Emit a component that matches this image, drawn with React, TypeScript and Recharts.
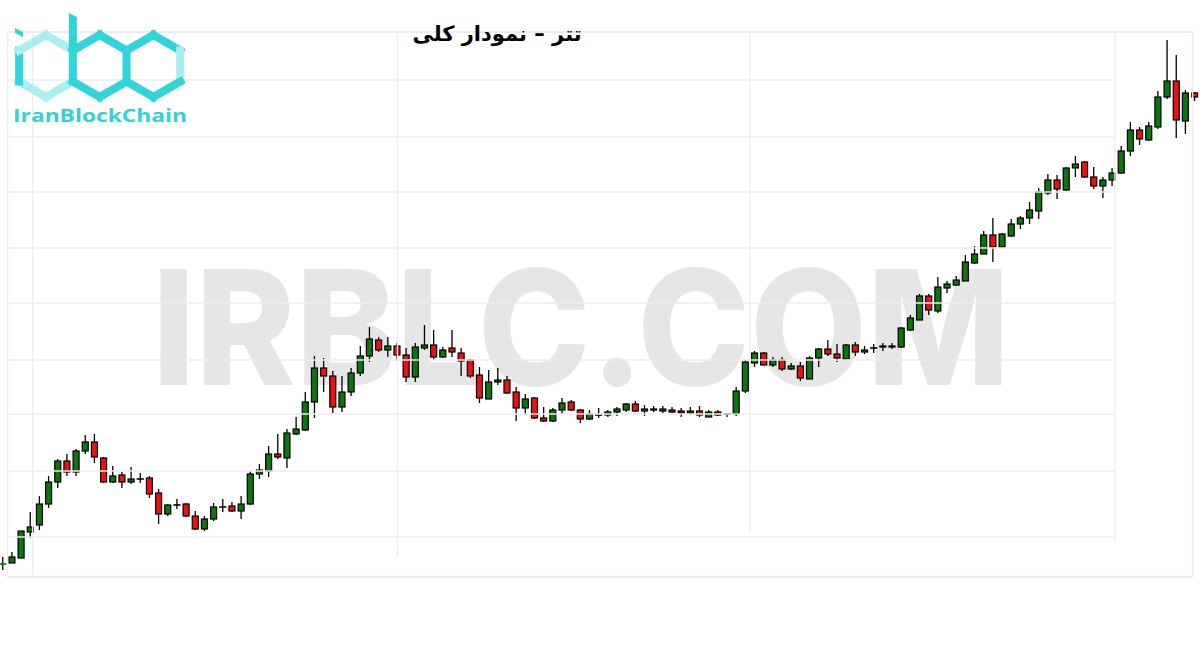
import React from 'react';
import { ComposedChart, Bar, XAxis, YAxis, ReferenceLine } from 'recharts';

// Candle periods (no labels are shown on the chart)
const periods: string[] = Array.from({ length: 131 }, (_, i) => `P${i + 1}`);

// Price values (in hundreds of toman)
const opens: number[] = [
  36, 37, 42, 68, 75, 96, 118, 139, 128, 149, 158, 142, 118, 125, 118, 121, 122, 107, 86, 95,
  96, 84, 71, 81, 93, 94, 89, 96, 126, 129, 146, 142, 166, 170, 198, 232, 224, 193, 208, 227,
  244, 260, 250, 254, 245, 223, 252, 255, 243, 252, 247, 240, 225, 201, 218, 220, 208, 192, 202, 182,
  179, 190, 198, 190, 181, 185, 185, 188, 190, 196, 189, 190, 189, 190, 189, 187, 189, 183, 188, 186,
  186, 209, 237, 247, 235, 240, 231, 234, 221, 242, 251, 246, 241, 255, 248, 252, 253, 253, 253, 270,
  280, 304, 289, 312, 315, 319, 337, 346, 365, 353, 364, 376, 382, 389, 407, 420, 410, 432, 438, 423,
  414, 420, 427, 449, 470, 460, 473, 503, 519, 479, 507,
];
const highs: number[] = [
  43, 48, 69, 88, 104, 124, 141, 146, 151, 165, 166, 143, 134, 128, 133, 127, 124, 111, 96, 101,
  97, 89, 84, 97, 101, 98, 104, 129, 136, 154, 166, 171, 183, 208, 244, 242, 229, 224, 232, 254,
  273, 263, 263, 257, 252, 257, 275, 270, 253, 270, 252, 241, 233, 230, 232, 224, 213, 206, 203, 193,
  192, 202, 200, 191, 190, 192, 190, 193, 197, 199, 195, 194, 194, 193, 192, 193, 194, 190, 190, 187,
  213, 240, 249, 248, 243, 243, 237, 238, 244, 252, 260, 256, 256, 258, 254, 256, 257, 257, 273, 285,
  306, 306, 323, 319, 324, 345, 354, 369, 382, 367, 381, 384, 398, 412, 426, 425, 433, 444, 439, 433,
  423, 432, 454, 478, 473, 478, 509, 560, 545, 510, 508,
];
const lows: number[] = [
  30, 37, 42, 62, 70, 92, 112, 124, 124, 146, 137, 117, 117, 112, 116, 117, 102, 76, 84, 91,
  83, 70, 69, 79, 88, 88, 81, 95, 121, 123, 141, 132, 165, 169, 182, 208, 187, 188, 204, 224,
  238, 248, 243, 239, 218, 218, 250, 240, 242, 243, 224, 222, 197, 201, 215, 206, 179, 185, 181, 178,
  178, 186, 189, 177, 180, 182, 183, 184, 188, 188, 184, 188, 187, 187, 183, 185, 183, 183, 184, 183,
  184, 207, 233, 235, 233, 229, 230, 219, 221, 233, 244, 238, 240, 244, 246, 247, 249, 251, 252, 269,
  280, 285, 287, 307, 314, 319, 336, 346, 338, 352, 363, 371, 376, 381, 405, 401, 409, 423, 422, 411,
  402, 414, 426, 444, 455, 459, 471, 501, 462, 466, 499,
];
const closes: number[] = [
  36, 43, 69, 73, 96, 118, 139, 128, 149, 158, 143, 118, 124, 118, 121, 121, 106, 86, 95, 95,
  84, 71, 81, 93, 93, 89, 96, 126, 130, 146, 143, 167, 171, 198, 232, 224, 193, 208, 227, 244,
  261, 250, 254, 245, 223, 253, 255, 243, 250, 248, 239, 224, 202, 218, 220, 207, 192, 201, 182, 179,
  190, 197, 190, 181, 186, 185, 188, 191, 196, 189, 191, 191, 191, 188, 187, 189, 185, 188, 185, 186,
  209, 238, 247, 235, 240, 231, 234, 222, 242, 251, 246, 242, 255, 248, 250, 252, 254, 254, 272, 282,
  304, 290, 313, 316, 320, 338, 346, 365, 353, 366, 376, 382, 390, 408, 420, 411, 432, 436, 423, 414,
  420, 427, 449, 470, 461, 474, 503, 519, 480, 507, 503,
];

// Horizontal grid levels and vertical grid positions (in candle slots)
const gridLevels: number[] = [520, 463, 408, 352, 297, 240, 186, 129, 63];
const frameTop = 568;
const frameBottom = 23;
const frameLeft = 1.03;
const frameRight = 129.3;
const innerGridRight = 120.9;
const verticalGrid: { x: number; bottom: number }[] = [
  { x: 3.75, bottom: 23 },
  { x: 43.24, bottom: 43 },
  { x: 81.41, bottom: 67 },
  { x: 120.9, bottom: 57 },
];

const TITLE = 'تتر – نمودار کلی';
const WATERMARK = 'IRBLC.COM';
const BRAND = 'IranBlockChain';

const UP = '#0c760c';
const DOWN = '#ee1010';
const GRID = '#ececec';

const rows = periods.map((p, i) => ({
  period: p,
  idx: i,
  o: opens[i],
  h: highs[i],
  l: lows[i],
  c: closes[i],
  range: [lows[i], highs[i]],
}));

const Candle = (props: any) => {
  const { x, y, width, height, payload } = props;
  if (x == null || y == null || !payload) return null;
  const { o, c, h, l } = payload;
  const span = h - l;
  const ratio = span === 0 ? 0 : height / span;
  const cx = x + width / 2;
  const top = y + (h - Math.max(o, c)) * ratio;
  const bot = y + (h - Math.min(o, c)) * ratio;
  const up = c >= o;
  const bodyH = bot - top;
  return (
    <g>
      <line x1={cx} x2={cx} y1={y} y2={y + height} stroke="#000" strokeWidth={1.3} />
      {bodyH < 0.8 ? (
        <line
          x1={x - 0.6}
          x2={x + width + 0.6}
          y1={(top + bot) / 2}
          y2={(top + bot) / 2}
          stroke={payload.idx === 0 ? UP : '#000'}
          strokeWidth={1.6}
        />
      ) : (
        <rect x={x} y={top} width={width} height={bodyH} fill={up ? UP : DOWN} stroke="#000" strokeWidth={1.2} />
      )}
    </g>
  );
};

const DARK = '#2fd5d8';
const LIGHT = '#a9eff0';

const hexPts = (cx: number, cy: number, r: number) => [
  [cx, cy - r],
  [cx + 0.866 * r, cy - r / 2],
  [cx + 0.866 * r, cy + r / 2],
  [cx, cy + r],
  [cx - 0.866 * r, cy + r / 2],
  [cx - 0.866 * r, cy - r / 2],
];

const Hex = ({ cx, cy, r, colors }: { cx: number; cy: number; r: number; colors: string[] }) => {
  const p = hexPts(cx, cy, r);
  return (
    <g strokeWidth={8} strokeLinecap="square">
      {p.map((pt, k) => {
        const q = p[(k + 1) % 6];
        if (!colors[k]) return null;
        return <line key={k} x1={pt[0]} y1={pt[1]} x2={q[0]} y2={q[1]} stroke={colors[k]} />;
      })}
    </g>
  );
};

const Logo = () => {
  const r = 31;
  const w = 2 * 0.866 * r;
  const cy = 66;
  const c1 = 46;
  const c2 = c1 + w;
  const c3 = c2 + w;
  return (
    <g>
      <Hex cx={c1} cy={cy} r={r} colors={[LIGHT, '', LIGHT, LIGHT, DARK, LIGHT]} />
      <Hex cx={c3} cy={cy} r={r} colors={[DARK, LIGHT, DARK, DARK, '', DARK]} />
      <Hex cx={c2} cy={cy} r={r} colors={[DARK, DARK, DARK, DARK, DARK, DARK]} />
      <polygon
        points={`${c2 - 0.866 * r - 4},13 ${c2 - 0.866 * r + 4},17 ${c2 - 0.866 * r + 4},${cy - r / 2} ${c2 - 0.866 * r - 4},${cy - r / 2}`}
        fill={DARK}
      />
      <polygon points="15,28 23,32 23,37 15,33" fill={DARK} />
      <text
        x={13}
        y={122}
        fontFamily="'Open Sans', 'DejaVu Sans', sans-serif"
        fontWeight={700}
        fontSize={18}
        fill="#30d2d5"
        textLength={174}
        lengthAdjust="spacingAndGlyphs"
      >
        {BRAND}
      </text>
    </g>
  );
};

export default function App() {
  return (
    <div style={{ position: 'absolute', left: 0, top: 0, width: 1200, height: 650, background: '#fff', overflow: 'hidden' }}>
      <svg width={1200} height={650} style={{ position: 'absolute', left: 0, top: 0 }}>
        <text
          x={152}
          y={385}
          fontFamily="Inter, 'Open Sans', sans-serif"
          fontWeight={800}
          fontSize={160}
          fill="#e6e6e6"
          textLength={858}
          lengthAdjust="spacingAndGlyphs"
        >
          {WATERMARK}
        </text>
      </svg>
      <div style={{ position: 'absolute', left: -2, top: 0 }}>
        <ComposedChart
          width={1201}
          height={650}
          data={rows}
          margin={{ top: 32, bottom: 73, left: 0, right: 0 }}
          barCategoryGap="19%"
        >
          <XAxis dataKey="period" type="category" hide />
          <XAxis xAxisId="g" type="number" domain={[-0.5, 130.5]} hide allowDataOverflow />
          <YAxis type="number" domain={[frameBottom, frameTop]} hide allowDataOverflow />
          {gridLevels.map((v) => (
            <ReferenceLine
              key={`h${v}`}
              xAxisId="g"
              segment={[{ x: frameLeft, y: v }, { x: innerGridRight, y: v }]}
              stroke={GRID}
              strokeWidth={1.5}
              ifOverflow="visible"
            />
          ))}
          {verticalGrid.map((g) => (
            <ReferenceLine
              key={`v${g.x}`}
              xAxisId="g"
              segment={[{ x: g.x, y: frameTop }, { x: g.x, y: g.bottom }]}
              stroke={GRID}
              strokeWidth={1.3}
              ifOverflow="visible"
            />
          ))}
          <ReferenceLine xAxisId="g" segment={[{ x: frameLeft, y: frameTop }, { x: frameRight, y: frameTop }]} stroke={GRID} strokeWidth={2} ifOverflow="visible" />
          <ReferenceLine xAxisId="g" segment={[{ x: frameLeft, y: frameBottom }, { x: frameRight, y: frameBottom }]} stroke={GRID} strokeWidth={2.5} ifOverflow="visible" />
          <ReferenceLine xAxisId="g" segment={[{ x: frameLeft, y: frameTop }, { x: frameLeft, y: frameBottom }]} stroke={GRID} strokeWidth={1.5} ifOverflow="visible" />
          <ReferenceLine xAxisId="g" segment={[{ x: frameRight, y: frameTop }, { x: frameRight, y: frameBottom }]} stroke={GRID} strokeWidth={1.5} ifOverflow="visible" />
          <Bar dataKey="range" shape={Candle} isAnimationActive={false} />
        </ComposedChart>
      </div>
      <svg width={1200} height={140} style={{ position: 'absolute', left: 0, top: 0, pointerEvents: 'none' }}>
        <Logo />
        <text
          x={497}
          y={41}
          textAnchor="middle"
          direction="rtl"
          fontFamily="'DejaVu Sans', sans-serif"
          fontWeight={700}
          fontSize={21}
          fill="#000"
        >
          {TITLE}
        </text>
      </svg>
    </div>
  );
}
